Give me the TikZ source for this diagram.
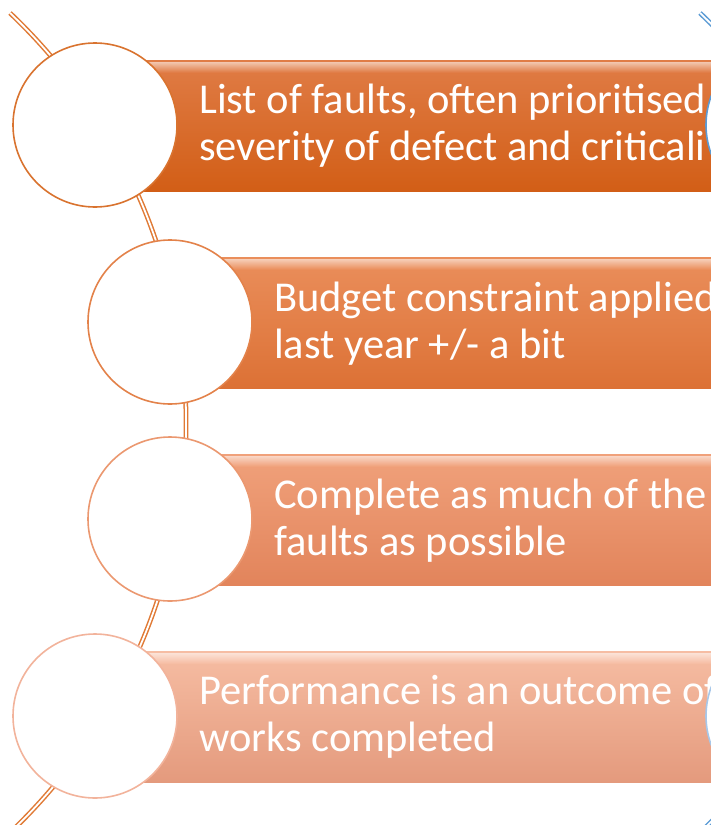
\documentclass[tikz,border=0pt]{standalone}
\usepackage{fontspec}
\setmainfont{Carlito}
\usetikzlibrary{positioning}

\definecolor{arcor}{HTML}{E07A35}
\definecolor{ringA}{HTML}{D9732F}
\definecolor{ringB}{HTML}{E3824A}
\definecolor{ringC}{HTML}{EB9870}
\definecolor{ringD}{HTML}{F2B39B}
\definecolor{barAt}{HTML}{E07C46}
\definecolor{barAb}{HTML}{D25E16}
\definecolor{barBt}{HTML}{EA8E5B}
\definecolor{barBb}{HTML}{DC7135}
\definecolor{barCt}{HTML}{F0A17B}
\definecolor{barCb}{HTML}{E2845B}
\definecolor{barDt}{HTML}{F6BDA3}
\definecolor{barDb}{HTML}{E49A7D}
\definecolor{blueA}{HTML}{5B9BD5}
\definecolor{blueD}{HTML}{A7C7E9}

\begin{document}
\begin{tikzpicture}[x=1pt,y=-1pt,
  ring/.style={circle,draw,fill=white,line width=1.6pt,minimum size=164pt,inner sep=0pt},
  bar/.style={rectangle,anchor=west,minimum width=760pt,minimum height=131pt,inner sep=0pt},
  bartext/.style={anchor=base west,inner sep=0pt,text=white,font=\fontsize{42.5}{47}\selectfont},
  spine/.style={line width=1.5pt,double=white,double distance=1.8pt}]

  \useasboundingbox (0,0) rectangle (711,825);
  \clip (0,0) rectangle (711,825);

  \coordinate (s1) at (10,13);
  \coordinate (s2) at (700,13);
  \draw[spine,draw=arcor] (s1) arc[start angle=46.5,end angle=-50,radius=565pt];
  \draw[spine,draw=blueA] (s2) arc[start angle=46.5,end angle=-50,radius=565pt];

  \node[bar,top color=barAt,bottom color=barAb] (b1) at (130,126) {};
  \node[bar,top color=barBt,bottom color=barBb] (b2) at (200,323) {};
  \node[bar,top color=barCt,bottom color=barCb] (b3) at (200,520) {};
  \node[bar,top color=barDt,bottom color=barDb] (b4) at (130,717) {};

  \foreach \b/\c in {b1/barAt,b2/barBt,b3/barCt,b4/barDt}
    \fill[top color=white!55!\c,bottom color=\c] ([yshift=-2pt]\b.north west) rectangle ([yshift=-12pt]\b.north east);

  \node[bartext] (t1) at (199,113) {List of faults, often prioritised};
  \node[bartext] (t2) at (199,160) {severity of defect and criticali};
  \node[bartext] (t3) at (274,311) {Budget constraint applied};
  \node[bartext] (t4) at (274,358) {last year +/- a bit};
  \node[bartext] (t5) at (274,508) {Complete as much of the};
  \node[bartext] (t6) at (274,555) {faults as possible};
  \node[bartext] (t7) at (199,704) {Performance is an outcome of};
  \node[bartext] (t8) at (199,751) {works completed};

  \node[ring,draw=ringA] (c1) at (95,125) {};
  \node[ring,draw=ringB] (c2) at (170,322) {};
  \node[ring,draw=ringC] (c3) at (170,519) {};
  \node[ring,draw=ringD] (c4) at (95,716) {};

  \node[ring,draw=blueA] (d1) at (788,125) {};
  \node[ring,draw=blueD] (d4) at (788,716) {};
\end{tikzpicture}
\end{document}
